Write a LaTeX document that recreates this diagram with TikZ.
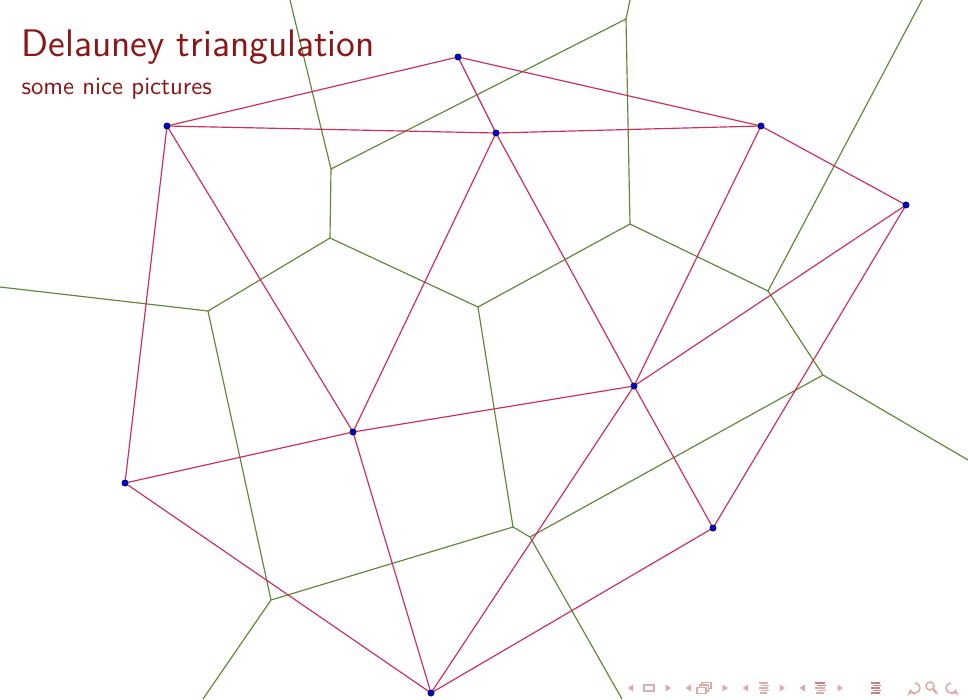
\documentclass[tikz,border=0pt]{standalone}
\usetikzlibrary{arrows.meta}
\definecolor{titlered}{RGB}{140,22,22}
\definecolor{delred}{RGB}{205,45,90}
\definecolor{vorgreen}{RGB}{95,135,55}
\definecolor{navcol}{RGB}{222,170,170}
\definecolor{navdark}{RGB}{200,130,130}
\tikzset{
  del/.style={draw=delred, line width=0.45pt},
  vor/.style={draw=vorgreen, line width=0.45pt},
  site/.style={circle, fill=blue!85!black, draw=blue!30!black, line width=0.25pt, inner sep=0pt, minimum size=2.4pt},
  navtri/.style={fill=navcol, draw=none},
  navline/.style={draw=navcol, line width=0.6pt},
}
\begin{document}
\begin{tikzpicture}[x=0.387pt, y=-0.387pt]
\useasboundingbox (0,0) rectangle (968,699);
\fill[white] (0,0) rectangle (968,699);
% Voronoi vertices
\coordinate (vABC) at (331,169);
\coordinate (vBCD) at (626,19);
\coordinate (vACG) at (330,238);
\coordinate (vAGH) at (208,311);
\coordinate (vCGF) at (478,307);
\coordinate (vCDF) at (630,224);
\coordinate (vDEF) at (768,291);
\coordinate (vEFI) at (823,375);
\coordinate (vFIJ) at (530,537);
\coordinate (vFGJ) at (513,527);
\coordinate (vGHJ) at (271,600);
% ray ends
\coordinate (rAB) at (290,0);
\coordinate (rBD) at (630,0);
\coordinate (rDE) at (922,0);
\coordinate (rAH) at (0,287);
\coordinate (rEI) at (968,460);
\coordinate (rHJ) at (203,699);
\coordinate (rJI) at (622,699);
% Voronoi edges
\begin{scope}
\clip (0,0) rectangle (968,699);
\draw[vor] (vABC) -- (rAB);
\draw[vor] (vABC) -- (vBCD);
\draw[vor] (vBCD) -- (rBD);
\draw[vor] (vABC) -- (vACG);
\draw[vor] (vBCD) -- (vCDF);
\draw[vor] (vDEF) -- (rDE);
\draw[vor] (vACG) -- (vAGH);
\draw[vor] (vAGH) -- (rAH);
\draw[vor] (vACG) -- (vCGF);
\draw[vor] (vCGF) -- (vCDF);
\draw[vor] (vCDF) -- (vDEF);
\draw[vor] (vDEF) -- (vEFI);
\draw[vor] (vEFI) -- (rEI);
\draw[vor] (vCGF) -- (vFGJ);
\draw[vor] (vEFI) -- (vFIJ);
\draw[vor] (vFIJ) -- (vFGJ);
\draw[vor] (vAGH) -- (vGHJ);
\draw[vor] (vFGJ) -- (vGHJ);
\draw[vor] (vGHJ) -- (rHJ);
\draw[vor] (vFIJ) -- (rJI);
\end{scope}
% sites (positions)
\coordinate (A) at (167,126);
\coordinate (B) at (458,57);
\coordinate (C) at (496,133);
\coordinate (D) at (761,126);
\coordinate (E) at (906,205);
\coordinate (F) at (634,386);
\coordinate (G) at (353,432);
\coordinate (H) at (125,483);
\coordinate (I) at (713,528);
\coordinate (J) at (431,693);
% Delaunay edges
\draw[del] (A) -- (B);
\draw[del] (B) -- (C);
\draw[del] (B) -- (D);
\draw[del] (A) -- (C);
\draw[del] (C) -- (D);
\draw[del] (D) -- (E);
\draw[del] (A) -- (G);
\draw[del] (A) -- (H);
\draw[del] (C) -- (G);
\draw[del] (C) -- (F);
\draw[del] (D) -- (F);
\draw[del] (E) -- (F);
\draw[del] (E) -- (I);
\draw[del] (F) -- (G);
\draw[del] (F) -- (I);
\draw[del] (F) -- (J);
\draw[del] (G) -- (H);
\draw[del] (G) -- (J);
\draw[del] (H) -- (J);
\draw[del] (J) -- (I);
% site dots
\foreach \p in {A,B,C,D,E,F,G,H,I,J}{
  \node[site] (dot\p) at (\p) {};
}
% title
\node[anchor=base west, inner sep=0pt, text=titlered, font=\sffamily\fontsize{14.85}{17}\selectfont] (title) at (21,56) {Delauney triangulation};
\node[anchor=base west, inner sep=0pt, text=titlered, font=\sffamily\fontsize{9.6}{11}\selectfont] (subtitle) at (21,94) {some nice pictures};
% navigation symbols
\fill[navtri] (633,684.5) -- (633,691.5) -- (627.5,688) -- cycle;
\draw[navline] (644,685) rectangle (654,691);
\fill[navtri] (665.5,684.5) -- (665.5,691.5) -- (671,688) -- cycle;
\fill[navtri] (691,684.5) -- (691,691.5) -- (685.5,688) -- cycle;
\draw[navline, fill=white] (702,682.5) rectangle (711,688.5);
\draw[navline, fill=white] (699.5,685) rectangle (708.5,691);
\draw[navline, fill=white] (697,687.5) rectangle (706,693.5);
\fill[navtri] (722.5,684.5) -- (722.5,691.5) -- (728,688) -- cycle;
\fill[navtri] (748,684.5) -- (748,691.5) -- (742.5,688) -- cycle;
\draw[navline] (759,683) -- (768,683);
\draw[navline] (761,685.5) -- (769,685.5);
\draw[navline] (759,688) -- (768,688);
\draw[navline] (761,690.5) -- (769,690.5);
\draw[navline] (760,693) -- (767,693);
\fill[navtri] (779.5,684.5) -- (779.5,691.5) -- (785,688) -- cycle;
\fill[navtri] (805,684.5) -- (805,691.5) -- (799.5,688) -- cycle;
\draw[navline, draw=navdark] (815,683) -- (825,683);
\draw[navline, draw=navdark] (817,685.5) -- (826,685.5);
\draw[navline] (815,688) -- (825,688);
\draw[navline] (817,690.5) -- (826,690.5);
\draw[navline] (816,693) -- (824,693);
\fill[navtri] (837.5,684.5) -- (837.5,691.5) -- (843,688) -- cycle;
\draw[navline, draw=navdark] (871,683) -- (880,683);
\draw[navline, draw=navdark] (873,685.5) -- (881,685.5);
\draw[navline, draw=navdark] (871,688) -- (880,688);
\draw[navline, draw=navdark] (873,690.5) -- (881,690.5);
\draw[navline, draw=navdark] (871,693) -- (880,693);
% undo
\draw[navline, -{Stealth[length=2.5pt,width=3pt]}] (915,683) arc[start angle=-90, end angle=170, radius=5];
% search
\draw[navline] (930,686) circle[radius=4];
\draw[navline, line width=0.9pt] (933,689) -- (937,693.5);
% redo
\draw[navline, -{Stealth[length=2.5pt,width=3pt]}] (951,683) arc[start angle=-90, end angle=-350, radius=5];
\end{tikzpicture}
\end{document}
